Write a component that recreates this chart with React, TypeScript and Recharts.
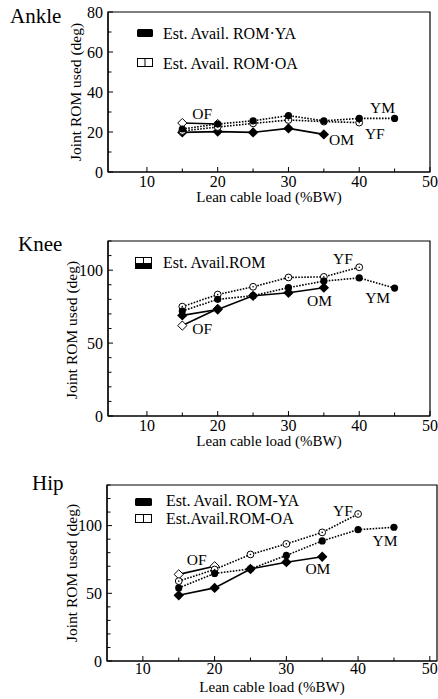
import React from 'react';
import { LineChart, Line, XAxis, YAxis, ReferenceArea, ReferenceDot } from 'recharts';

const FONT = '"Liberation Serif", "Times New Roman", serif';

// ---- data ----
const loads = [15, 20, 25, 30, 35, 40, 45];

const ankleYM = [21.5, 24, 25.6, 28.2, 25.6, 26.8, 26.8];
const ankleYF = [20.5, 22.5, 24.3, 26, 25.2, 24.7, null];
const ankleOM = [19.8, 20.2, 19.8, 21.8, 18.8, null, null];
const ankleOF = [24.5, 24, null, null, null, null, null];

const kneeYM = [72, 80, 82.5, 88, 92.5, 94.7, 87.7];
const kneeYF = [75, 83.3, 88.6, 95, 95.4, 102, null];
const kneeOM = [69, 73, 82.4, 84.5, 88, null, null];
const kneeOF = [62, 73.5, null, null, null, null, null];

const hipYM = [54, 64.7, 68, 78, 88.7, 97, 98.8];
const hipYF = [59, 67.6, 78.7, 86.5, 95, 108.6, null];
const hipOM = [48.5, 54, 68, 73, 77, null, null];
const hipOF = [64, 70, null, null, null, null, null];

const xTicks = [10, 15, 20, 25, 30, 35, 40, 45, 50];
const xTickLabels = [10, 20, 30, 40, 50];
const ankleYTicks = [0, 10, 20, 30, 40, 50, 60, 70, 80];
const ankleYTickLabels = [0, 20, 40, 60, 80];
const kneeYTicks = [0, 10, 20, 30, 40, 50, 60, 70, 80, 90, 100, 110, 120];
const hipYTicks = [0, 10, 20, 30, 40, 50, 60, 70, 80, 90, 100, 110, 120, 130];
const kneeHipYTickLabels = [0, 50, 100];

const ankleTags = [
  { text: 'OF', x: 17.8, y: 29.5 },
  { text: 'OM', x: 37.5, y: 16.5 },
  { text: 'YF', x: 42.2, y: 19.5 },
  { text: 'YM', x: 43.3, y: 32.5 },
];
const kneeTags = [
  { text: 'YF', x: 37.7, y: 107.7 },
  { text: 'YM', x: 42.6, y: 81 },
  { text: 'OM', x: 34.4, y: 79 },
  { text: 'OF', x: 17.8, y: 59.7 },
];
const hipTags = [
  { text: 'OF', x: 17.5, y: 75 },
  { text: 'YF', x: 37.9, y: 111 },
  { text: 'YM', x: 43.75, y: 89 },
  { text: 'OM', x: 34.4, y: 68.4 },
];

function buildRows(ym: any[], yf: any[], om: any[], of: any[]) {
  return loads.map((load, i) => ({ load, ym: ym[i], yf: yf[i], om: om[i], of: of[i] }));
}

// ---- markers ----
const ok = (p: any) => p && Number.isFinite(p.cx) && Number.isFinite(p.cy) && p.value != null;
const FilledCircle = (p: any) =>
  ok(p) ? <circle key={`fc${p.index}`} cx={p.cx} cy={p.cy} r={3.6} fill="#000" /> : null;
const OpenCircle = (p: any) =>
  ok(p) ? (
    <g key={`oc${p.index}`}>
      <circle cx={p.cx} cy={p.cy} r={3.4} fill="#fff" stroke="#000" strokeWidth={1} />
      <circle cx={p.cx} cy={p.cy} r={0.8} fill="#000" />
    </g>
  ) : null;
const diamondPath = (cx: number, cy: number, s: number) =>
  `M${cx},${cy - s}L${cx + s},${cy}L${cx},${cy + s}L${cx - s},${cy}Z`;
const FilledDiamond = (p: any) =>
  ok(p) ? <path key={`fd${p.index}`} d={diamondPath(p.cx, p.cy, 5.2)} fill="#000" /> : null;
const OpenDiamond = (p: any) =>
  ok(p) ? (
    <path key={`od${p.index}`} d={diamondPath(p.cx, p.cy, 4.6)} fill="#fff" stroke="#000" strokeWidth={1} />
  ) : null;

// ---- ticks ----
const makeXTick = (labelOffset: number) => (props: any) => {
  const { x, y, payload } = props;
  const major = xTickLabels.includes(payload.value);
  return (
    <g>
      <line x1={x} y1={y} x2={x} y2={y - (major ? 5 : 3.5)} stroke="#000" strokeWidth={1} />
      {major && (
        <text x={x} y={y + labelOffset} textAnchor="middle" fontSize={16} fontFamily={FONT} fill="#000">
          {payload.value}
        </text>
      )}
    </g>
  );
};
const makeYTick = (labels: number[]) => (props: any) => {
  const { x, y, payload } = props;
  const major = labels.includes(payload.value);
  return (
    <g>
      <line x1={x} y1={y} x2={x + (major ? 5 : 3.5)} y2={y} stroke="#000" strokeWidth={1} />
      {major && (
        <text x={x - 5} y={y + 5.5} textAnchor="end" fontSize={16} fontFamily={FONT} fill="#000">
          {payload.value}
        </text>
      )}
    </g>
  );
};

type PanelProps = {
  rows: any[];
  height: number;
  margin: any;
  yAxisWidth: number;
  xDomain: [number, number];
  yDomain: [number, number];
  yTicks: number[];
  yLabels: number[];
  tags: { text: string; x: number; y: number }[];
  xLabelOffset: number;
};

function Panel({ rows, height, margin, yAxisWidth, xDomain, yDomain, yTicks, yLabels, tags, xLabelOffset }: PanelProps) {
  return (
    <LineChart width={438} height={height} data={rows} margin={margin}>
      <XAxis
        dataKey="load"
        type="number"
        domain={xDomain}
        allowDataOverflow
        ticks={xTicks}
        interval={0}
        tickSize={0}
        tickMargin={0}
        tickLine={false}
        height={33}
        tick={makeXTick(xLabelOffset)}
        axisLine={{ stroke: '#000', strokeWidth: 1.2 }}
      />
      <YAxis
        type="number"
        domain={yDomain}
        allowDataOverflow
        ticks={yTicks}
        interval={0}
        tickSize={0}
        tickMargin={0}
        tickLine={false}
        width={yAxisWidth}
        tick={makeYTick(yLabels)}
        axisLine={{ stroke: '#000', strokeWidth: 1.2 }}
      />
      <ReferenceArea
        x1={xDomain[0]}
        x2={xDomain[1]}
        y1={yDomain[0]}
        y2={yDomain[1]}
        fill="none"
        fillOpacity={0}
        stroke="#000"
        strokeWidth={1.2}
        ifOverflow="visible"
      />
      <Line dataKey="of" type="linear" stroke="#000" strokeWidth={1.6} dot={OpenDiamond} activeDot={false} isAnimationActive={false} />
      <Line dataKey="om" type="linear" stroke="#000" strokeWidth={1.6} dot={FilledDiamond} activeDot={false} isAnimationActive={false} />
      <Line dataKey="yf" type="linear" stroke="#000" strokeWidth={1.6} strokeDasharray="1.6 1.4" dot={OpenCircle} activeDot={false} isAnimationActive={false} />
      <Line dataKey="ym" type="linear" stroke="#000" strokeWidth={1.6} strokeDasharray="1.6 1.4" dot={FilledCircle} activeDot={false} isAnimationActive={false} />
      {tags.map((t) => (
        <ReferenceDot
          key={t.text}
          x={t.x}
          y={t.y}
          r={0}
          fill="none"
          stroke="none"
          ifOverflow="visible"
          label={{ value: t.text, position: 'center', fontSize: 15.5, fontFamily: FONT, fill: '#000' }}
        />
      ))}
    </LineChart>
  );
}

const T = (p: any) => <text fontFamily={FONT} fill="#000" {...p} />;

export default function App() {
  return (
    <div style={{ position: 'relative', width: 438, height: 699, background: '#fff', fontFamily: FONT, overflow: 'hidden' }}>
      <style>{'body{margin:0;background:#fff}'}</style>
      <div style={{ position: 'absolute', left: 0, top: 0 }}>
        <Panel
          rows={buildRows(ankleYM, ankleYF, ankleOM, ankleOF)}
          height={205}
          margin={{ top: 12, right: 8, bottom: 0, left: 0 }}
          yAxisWidth={108}
          xDomain={[4.5, 50]}
          yDomain={[0, 80]}
          yTicks={ankleYTicks}
          yLabels={ankleYTickLabels}
          tags={ankleTags}
          xLabelOffset={15}
        />
      </div>
      <div style={{ position: 'absolute', left: 0, top: 229 }}>
        <Panel
          rows={buildRows(kneeYM, kneeYF, kneeOM, kneeOF)}
          height={220}
          margin={{ top: 12, right: 8, bottom: 0, left: 0 }}
          yAxisWidth={108}
          xDomain={[4.5, 50]}
          yDomain={[0, 120]}
          yTicks={kneeYTicks}
          yLabels={kneeHipYTickLabels}
          tags={kneeTags}
          xLabelOffset={15}
        />
      </div>
      <div style={{ position: 'absolute', left: 0, top: 473 }}>
        <Panel
          rows={buildRows(hipYM, hipYF, hipOM, hipOF)}
          height={221}
          margin={{ top: 12, right: 1, bottom: 0, left: 0 }}
          yAxisWidth={107}
          xDomain={[5, 51]}
          yDomain={[0, 130]}
          yTicks={hipYTicks}
          yLabels={kneeHipYTickLabels}
          tags={hipTags}
          xLabelOffset={13}
        />
      </div>
      <svg width={438} height={699} style={{ position: 'absolute', left: 0, top: 0, pointerEvents: 'none' }}>
        {/* titles */}
        <T x={10} y={23} fontSize={21}>Ankle</T>
        <T x={18} y={251} fontSize={21}>Knee</T>
        <T x={32} y={490} fontSize={21}>Hip</T>

        {/* axis titles */}
        <T x={269} y={202} fontSize={15} textAnchor="middle">Lean cable load (%BW)</T>
        <T x={269} y={446} fontSize={15} textAnchor="middle">Lean cable load (%BW)</T>
        <T x={272} y={692} fontSize={15} textAnchor="middle">Lean cable load (%BW)</T>
        <T x={0} y={0} fontSize={15.5} textAnchor="middle" transform="translate(81,92) rotate(-90)">Joint ROM used (deg)</T>
        <T x={0} y={0} fontSize={15.5} textAnchor="middle" transform="translate(77,330) rotate(-90)">Joint ROM used (deg)</T>
        <T x={0} y={0} fontSize={15.5} textAnchor="middle" transform="translate(77,573) rotate(-90)">Joint ROM used (deg)</T>

        {/* ankle legend */}
        <rect x={137} y={29} width={16} height={8} rx={1.5} fill="#000" />
        <T x={163} y={39} fontSize={16}>Est. Avail. ROM·YA</T>
        <rect x={137.5} y={58.5} width={15} height={8} fill="#fff" stroke="#000" strokeWidth={1} />
        <line x1={145} y1={58.5} x2={145} y2={66.5} stroke="#000" strokeWidth={1} />
        <T x={163} y={69} fontSize={16}>Est. Avail. ROM·OA</T>

        {/* knee legend */}
        <rect x={135.5} y={257.5} width={16} height={11} fill="#fff" stroke="#000" strokeWidth={1} />
        <rect x={135.5} y={263} width={16} height={5.5} fill="#000" />
        <line x1={143.5} y1={257.5} x2={143.5} y2={263} stroke="#000" strokeWidth={1} />
        <T x={163} y={268} fontSize={16}>Est. Avail.ROM</T>

        {/* hip legend */}
        <rect x={135} y={498} width={17} height={8} rx={1.5} fill="#000" />
        <T x={166} y={506} fontSize={16}>Est. Avail. ROM-YA</T>
        <rect x={135.5} y={514.5} width={16} height={8} fill="#fff" stroke="#000" strokeWidth={1} />
        <line x1={143.5} y1={514.5} x2={143.5} y2={522.5} stroke="#000" strokeWidth={1} />
        <T x={166} y={524} fontSize={16}>Est.Avail.ROM-OA</T>
      </svg>
    </div>
  );
}
